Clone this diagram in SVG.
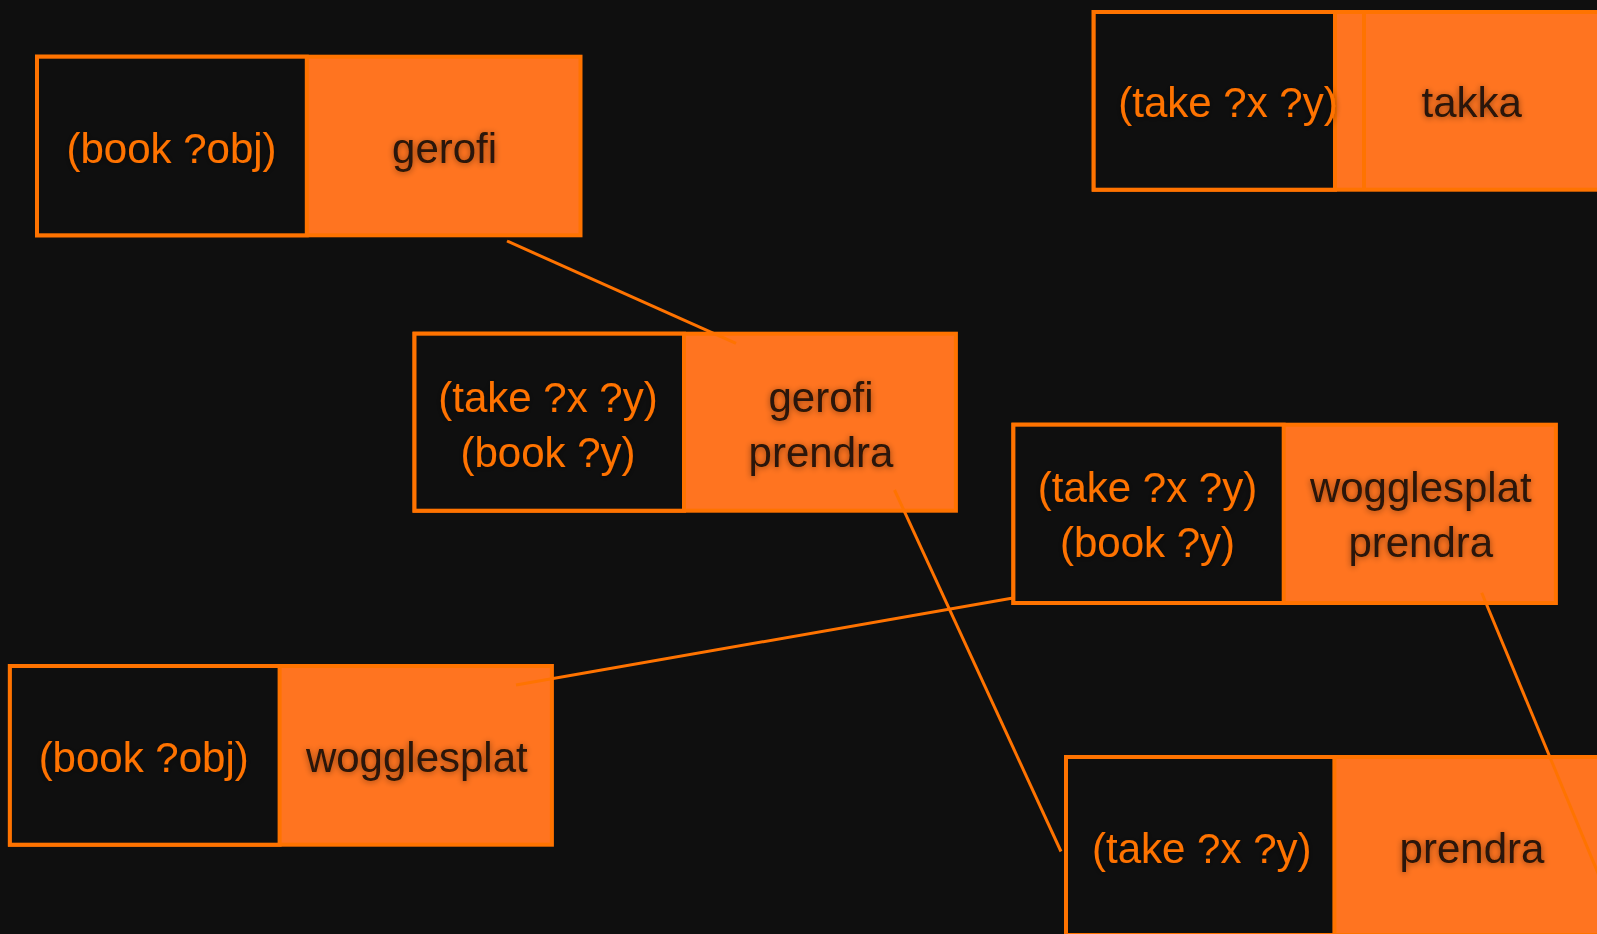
<svg xmlns="http://www.w3.org/2000/svg" width="1597" height="934" viewBox="0 0 1597 934">
<defs>
<style>
.bg{fill:#0f0f0f}
.outer{fill:#ff7420;stroke:#ff7300;stroke-width:4}
.left{fill:#0f0f0f;stroke:#ff7300;stroke-width:4}
.sep{stroke:#ff7300;stroke-width:4}
.t{font-family:"Liberation Sans",Arial,sans-serif;font-size:42px;text-anchor:middle}
.lt{fill:#ff7300;filter:url(#sh)}
.rt{fill:#2a1407;filter:url(#sh)}
.edge{stroke:#ff7300;stroke-width:3;fill:none}
</style>
<filter id="sh" x="-20%" y="-40%" width="140%" height="180%">
<feDropShadow dx="0" dy="1" stdDeviation="3" flood-color="#000" flood-opacity="0.45"/>
</filter>
</defs>
<rect class="bg" x="0" y="0" width="1597" height="934"/>
<g id="node-gerofi">
<rect class="outer" x="37" y="56.7" width="543.5" height="178.6"/>
<rect class="left" x="37" y="56.7" width="269.8" height="178.6"/>
<text class="t lt" x="171.5" y="163">(book ?obj)</text>
<text class="t rt" x="444.6" y="163">gerofi</text>
</g>
<g id="node-gerofi-prendra">
<rect class="outer" x="414.5" y="333.7" width="541.4" height="177"/>
<rect class="left" x="414.5" y="333.7" width="269.5" height="177"/>
<text class="t lt" x="548" y="411.7">(take ?x ?y)</text>
<text class="t lt" x="548" y="466.7">(book ?y)</text>
<text class="t rt" x="821" y="411.7">gerofi</text>
<text class="t rt" x="821" y="466.7">prendra</text>
</g>
<g id="node-takka">
<rect class="outer" x="1093.7" y="12" width="514" height="177.7"/>
<rect class="left" x="1093.7" y="12" width="241.3" height="177.7"/>
<line class="sep" x1="1364" y1="12" x2="1364" y2="189.7"/>
<text class="t lt" x="1228" y="117">(take ?x ?y)</text>
<text class="t rt" x="1471.7" y="117">takka</text>
</g>
<g id="node-wogglesplat-prendra">
<rect class="outer" x="1013.4" y="424.7" width="542.5" height="178.3"/>
<rect class="left" x="1013.4" y="424.7" width="270.3" height="178.3"/>
<text class="t lt" x="1147.5" y="501.7">(take ?x ?y)</text>
<text class="t lt" x="1147.5" y="556.7">(book ?y)</text>
<text class="t rt" x="1420.8" y="501.7">wogglesplat</text>
<text class="t rt" x="1420.8" y="556.7">prendra</text>
</g>
<g id="node-prendra">
<rect class="outer" x="1066" y="757" width="544" height="178"/>
<rect class="left" x="1066" y="757" width="268.4" height="178"/>
<text class="t lt" x="1201.8" y="863">(take ?x ?y)</text>
<text class="t rt" x="1472" y="863">prendra</text>
</g>
<g id="node-wogglesplat">
<rect class="outer" x="9.9" y="666" width="542" height="178.7"/>
<rect class="left" x="9.9" y="666" width="269.7" height="178.7"/>
<text class="t lt" x="143.7" y="771.7">(book ?obj)</text>
<text class="t rt" x="416.8" y="771.7">wogglesplat</text>
</g>
<g id="connectors">
<line class="edge" x1="507" y1="241" x2="736" y2="343.3"/>
<line class="edge" x1="894.5" y1="490" x2="1061" y2="851.5"/>
<line class="edge" x1="1013" y1="598" x2="516" y2="685"/>
<line class="edge" x1="1481.7" y1="592.7" x2="1605" y2="890"/>
</g>
</svg>
